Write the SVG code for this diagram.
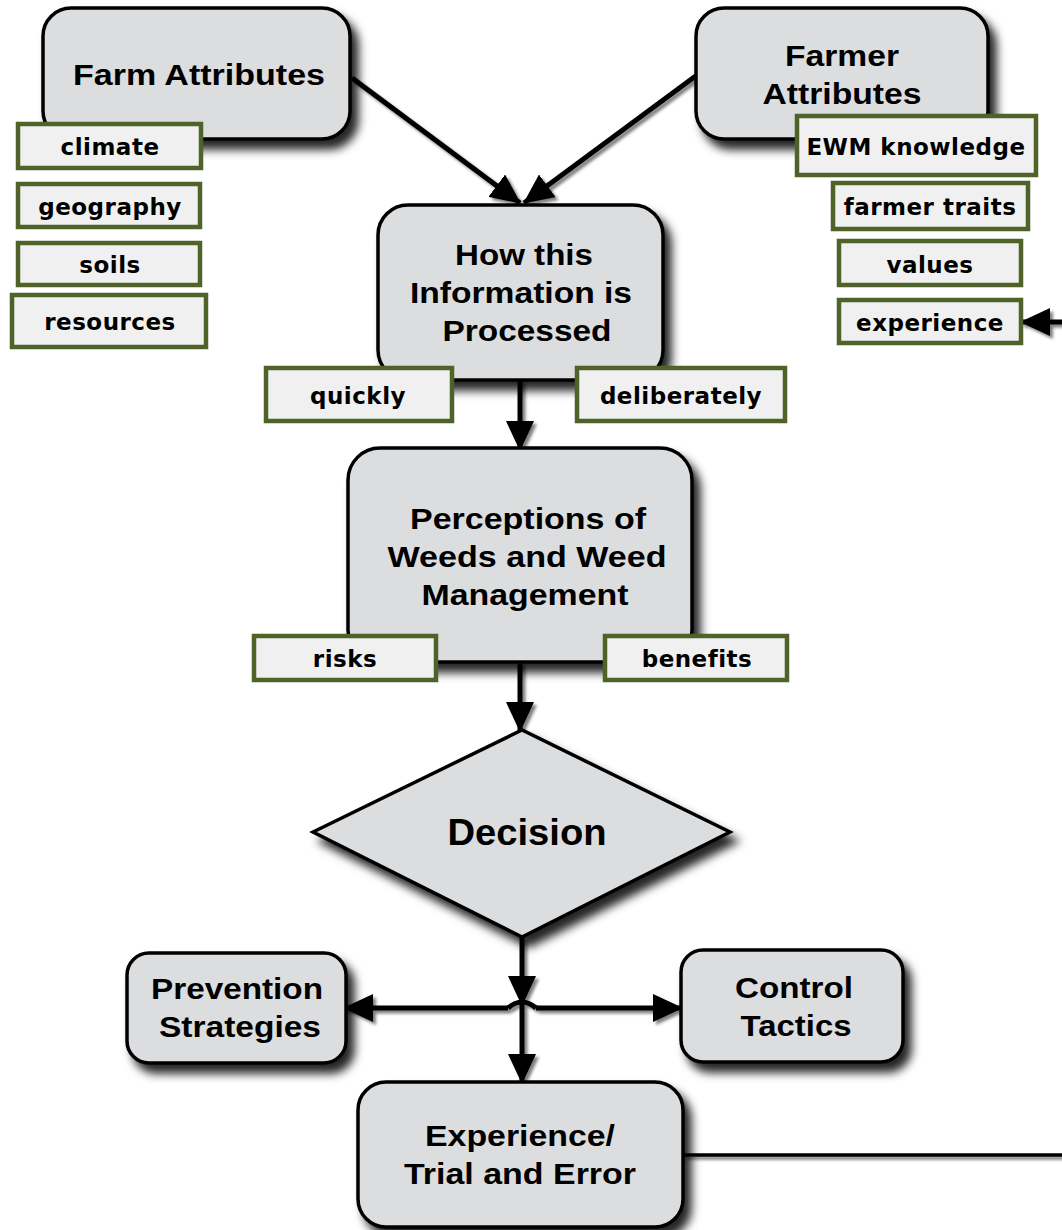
<svg xmlns="http://www.w3.org/2000/svg" width="1062" height="1230" viewBox="0 0 1062 1230">
<defs>
<filter id="sh" x="-20%" y="-20%" width="150%" height="150%">
<feDropShadow dx="7" dy="9" stdDeviation="5" flood-color="#000" flood-opacity="0.85"/>
</filter>
<filter id="ash" x="-20%" y="-20%" width="150%" height="150%">
<feDropShadow dx="3" dy="3" stdDeviation="1.5" flood-color="#000" flood-opacity="0.5"/>
</filter>
<marker id="ah" viewBox="0 0 30 28" markerWidth="30" markerHeight="28" refX="29" refY="14" orient="auto" markerUnits="userSpaceOnUse">
<path d="M0,0 L30,14 L0,28 z" fill="#000"/>
</marker>
<style>
.box{fill:#dcdddf;stroke:#000;stroke-width:3.5;filter:url(#sh)}
.tag{fill:#f0f0f0;stroke:#4f6228;stroke-width:4.5}
.t{font-family:"Liberation Sans",Arial,sans-serif;font-weight:bold;font-size:29px;text-anchor:middle;fill:#000}
.g{font-family:"DejaVu Sans",Verdana,sans-serif;font-weight:bold;font-size:23px;letter-spacing:0.5px;text-anchor:middle;fill:#000}
.c{fill:none;stroke:#000;stroke-width:5;marker-end:url(#ah)}
.cn{fill:none;stroke:#000;stroke-width:5}
</style>
</defs>
<g id="connectors" filter="url(#ash)">
<path class="c" d="M352,78 L520,203"/>
<path class="c" d="M697,75 L524,203"/>
<path class="c" d="M520,380 L520,450"/>
<path class="c" d="M520,662 L520,731"/>
<path class="c" d="M522,937 L522,1005"/>
<path class="cn" d="M508,1008 Q522,996 536,1008"/>
<path class="c" d="M508,1008 L344,1008"/>
<path class="c" d="M536,1008 L682,1008"/>
<path class="c" d="M522,1000 L522,1083"/>
<path fill="none" stroke="#000" stroke-width="3.5" d="M683,1155 L1070,1155 L1070,322"/>
<path class="c" d="M1070,322 L1021,322"/>
</g>
<g id="farm-attributes">
<rect class="box" x="43" y="8" width="307" height="131" rx="28"/>
<text class="t" x="199" y="85" textLength="252" lengthAdjust="spacingAndGlyphs">Farm Attributes</text>
</g>
<g id="farmer-attributes">
<rect class="box" x="696" y="8" width="292" height="131" rx="28"/>
<text class="t" x="842" y="66" textLength="114" lengthAdjust="spacingAndGlyphs">Farmer</text>
<text class="t" x="842" y="104" textLength="159" lengthAdjust="spacingAndGlyphs">Attributes</text>
</g>
<g id="how-processed">
<rect class="box" x="378" y="205" width="285" height="175" rx="30"/>
<text class="t" x="524" y="265" textLength="138" lengthAdjust="spacingAndGlyphs">How this</text>
<text class="t" x="521" y="303" textLength="222" lengthAdjust="spacingAndGlyphs">Information is</text>
<text class="t" x="527" y="341" textLength="169" lengthAdjust="spacingAndGlyphs">Processed</text>
</g>
<g id="perceptions">
<rect class="box" x="348" y="448" width="344" height="214" rx="32"/>
<text class="t" x="528" y="529" textLength="236" lengthAdjust="spacingAndGlyphs">Perceptions of</text>
<text class="t" x="527" y="567" textLength="279" lengthAdjust="spacingAndGlyphs">Weeds and Weed</text>
<text class="t" x="525" y="605" textLength="207" lengthAdjust="spacingAndGlyphs">Management</text>
</g>
<g id="decision">
<polygon class="box" points="313,832 522,730 730,832 522,937"/>
<text class="t" x="527" y="845" style="font-size:37px" textLength="159" lengthAdjust="spacingAndGlyphs">Decision</text>
</g>
<g id="prevention">
<rect class="box" x="127" y="953" width="219" height="110" rx="22"/>
<text class="t" x="237" y="999" textLength="172" lengthAdjust="spacingAndGlyphs">Prevention</text>
<text class="t" x="240" y="1037" textLength="162" lengthAdjust="spacingAndGlyphs">Strategies</text>
</g>
<g id="control">
<rect class="box" x="681" y="950" width="222" height="112" rx="22"/>
<text class="t" x="794" y="998" textLength="118" lengthAdjust="spacingAndGlyphs">Control</text>
<text class="t" x="796" y="1036" textLength="111" lengthAdjust="spacingAndGlyphs">Tactics</text>
</g>
<g id="experience-trial">
<rect class="box" x="358" y="1082" width="325" height="145" rx="28"/>
<text class="t" x="520" y="1146" textLength="190" lengthAdjust="spacingAndGlyphs">Experience/</text>
<text class="t" x="520" y="1184" textLength="232" lengthAdjust="spacingAndGlyphs">Trial and Error</text>
</g>
<g id="tag-climate"><rect class="tag" x="18" y="124" width="183" height="44"/><text class="g" x="110" y="155">climate</text></g>
<g id="tag-geography"><rect class="tag" x="18" y="184" width="182" height="43"/><text class="g" x="110" y="215">geography</text></g>
<g id="tag-soils"><rect class="tag" x="18" y="243" width="182" height="42"/><text class="g" x="110" y="273">soils</text></g>
<g id="tag-resources"><rect class="tag" x="12" y="295" width="194" height="52"/><text class="g" x="110" y="330">resources</text></g>
<g id="tag-ewm"><rect class="tag" x="797" y="116" width="239" height="59"/><text class="g" x="916" y="155">EWM knowledge</text></g>
<g id="tag-traits"><rect class="tag" x="833" y="183" width="195" height="46"/><text class="g" x="930" y="215">farmer traits</text></g>
<g id="tag-values"><rect class="tag" x="839" y="241" width="182" height="44"/><text class="g" x="930" y="273">values</text></g>
<g id="tag-experience"><rect class="tag" x="839" y="300" width="182" height="43"/><text class="g" x="930" y="331">experience</text></g>
<g id="tag-quickly"><rect class="tag" x="266" y="368" width="186" height="53"/><text class="g" x="358" y="404">quickly</text></g>
<g id="tag-deliberately"><rect class="tag" x="577" y="368" width="208" height="53"/><text class="g" x="681" y="404">deliberately</text></g>
<g id="tag-risks"><rect class="tag" x="254" y="636" width="182" height="44"/><text class="g" x="345" y="667">risks</text></g>
<g id="tag-benefits"><rect class="tag" x="605" y="636" width="182" height="44"/><text class="g" x="697" y="667">benefits</text></g>
</svg>
